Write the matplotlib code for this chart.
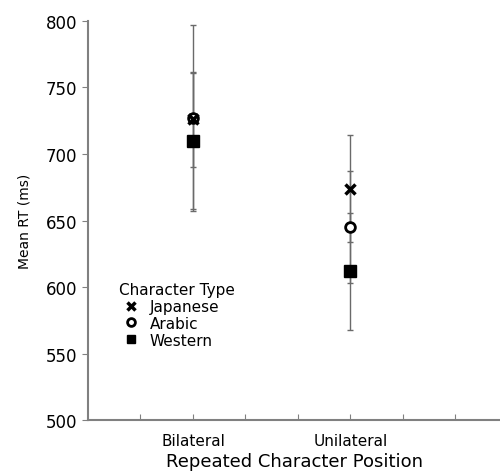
import matplotlib.pyplot as plt
import numpy as np

positions = ["Bilateral", "Unilateral"]
x_pos = [2, 5]
char_types = ["Japanese", "Arabic", "Western"]
means = {
    "Japanese": [726, 674],
    "Arabic": [727, 645],
    "Western": [710, 612],
}
errors = {
    "Japanese": [36, 40],
    "Arabic": [70, 42],
    "Western": [51, 44],
}
markers = {"Japanese": "x", "Arabic": "o", "Western": "s"}

fig = plt.figure(figsize=(5.0, 4.77), dpi=100)
ax = fig.add_axes([0.176, 0.117, 0.824, 0.837])

for ct in char_types:
    ax.errorbar(x_pos, means[ct], yerr=errors[ct], fmt="none",
                ecolor="#6a6a6a", elinewidth=1.0, capsize=2.5, capthick=1.0,
                zorder=2)

for ct in char_types:
    m = markers[ct]
    if m == "x":
        ax.plot(x_pos, means[ct], linestyle="none", marker="x", color="black",
                markersize=7.5, markeredgewidth=2.5, label=ct, zorder=4)
    elif m == "o":
        ax.plot(x_pos, means[ct], linestyle="none", marker="o",
                markerfacecolor="white", markeredgecolor="black",
                markersize=7, markeredgewidth=2, label=ct, zorder=3)
    else:
        ax.plot(x_pos, means[ct], linestyle="none", marker="s", color="black",
                markersize=8, label=ct, zorder=3)

ax.set_xlim(0, 7.85)
ax.set_ylim(500, 800)
ax.set_yticks(np.arange(500, 801, 50))
ax.set_xticks(np.arange(1, 8))
ax.set_xticklabels(["", positions[0], "", "", positions[1], "", ""])

for s in ["top", "right"]:
    ax.spines[s].set_visible(False)
for s in ["left", "bottom"]:
    ax.spines[s].set_color("#808080")
    ax.spines[s].set_linewidth(1.5)

ax.tick_params(axis="x", direction="in", length=4, color="#808080",
               labelsize=11, pad=9)
ax.tick_params(axis="y", direction="out", length=4, color="#808080",
               labelsize=12, pad=4)

ax.set_ylabel("Mean RT (ms)", fontsize=10, labelpad=10)
ax.set_xlabel("Repeated Character Position", fontsize=13, labelpad=3)

leg = ax.legend(title="Character Type", loc="lower left",
                bbox_to_anchor=(0.05, 0.155), frameon=False, fontsize=11,
                title_fontsize=11, handletextpad=0.5, labelspacing=0.12,
                borderpad=0.2, handlelength=1.5, markerscale=0.8)
leg._legend_box.align = "left"

fig.savefig("out.png", dpi=100)
